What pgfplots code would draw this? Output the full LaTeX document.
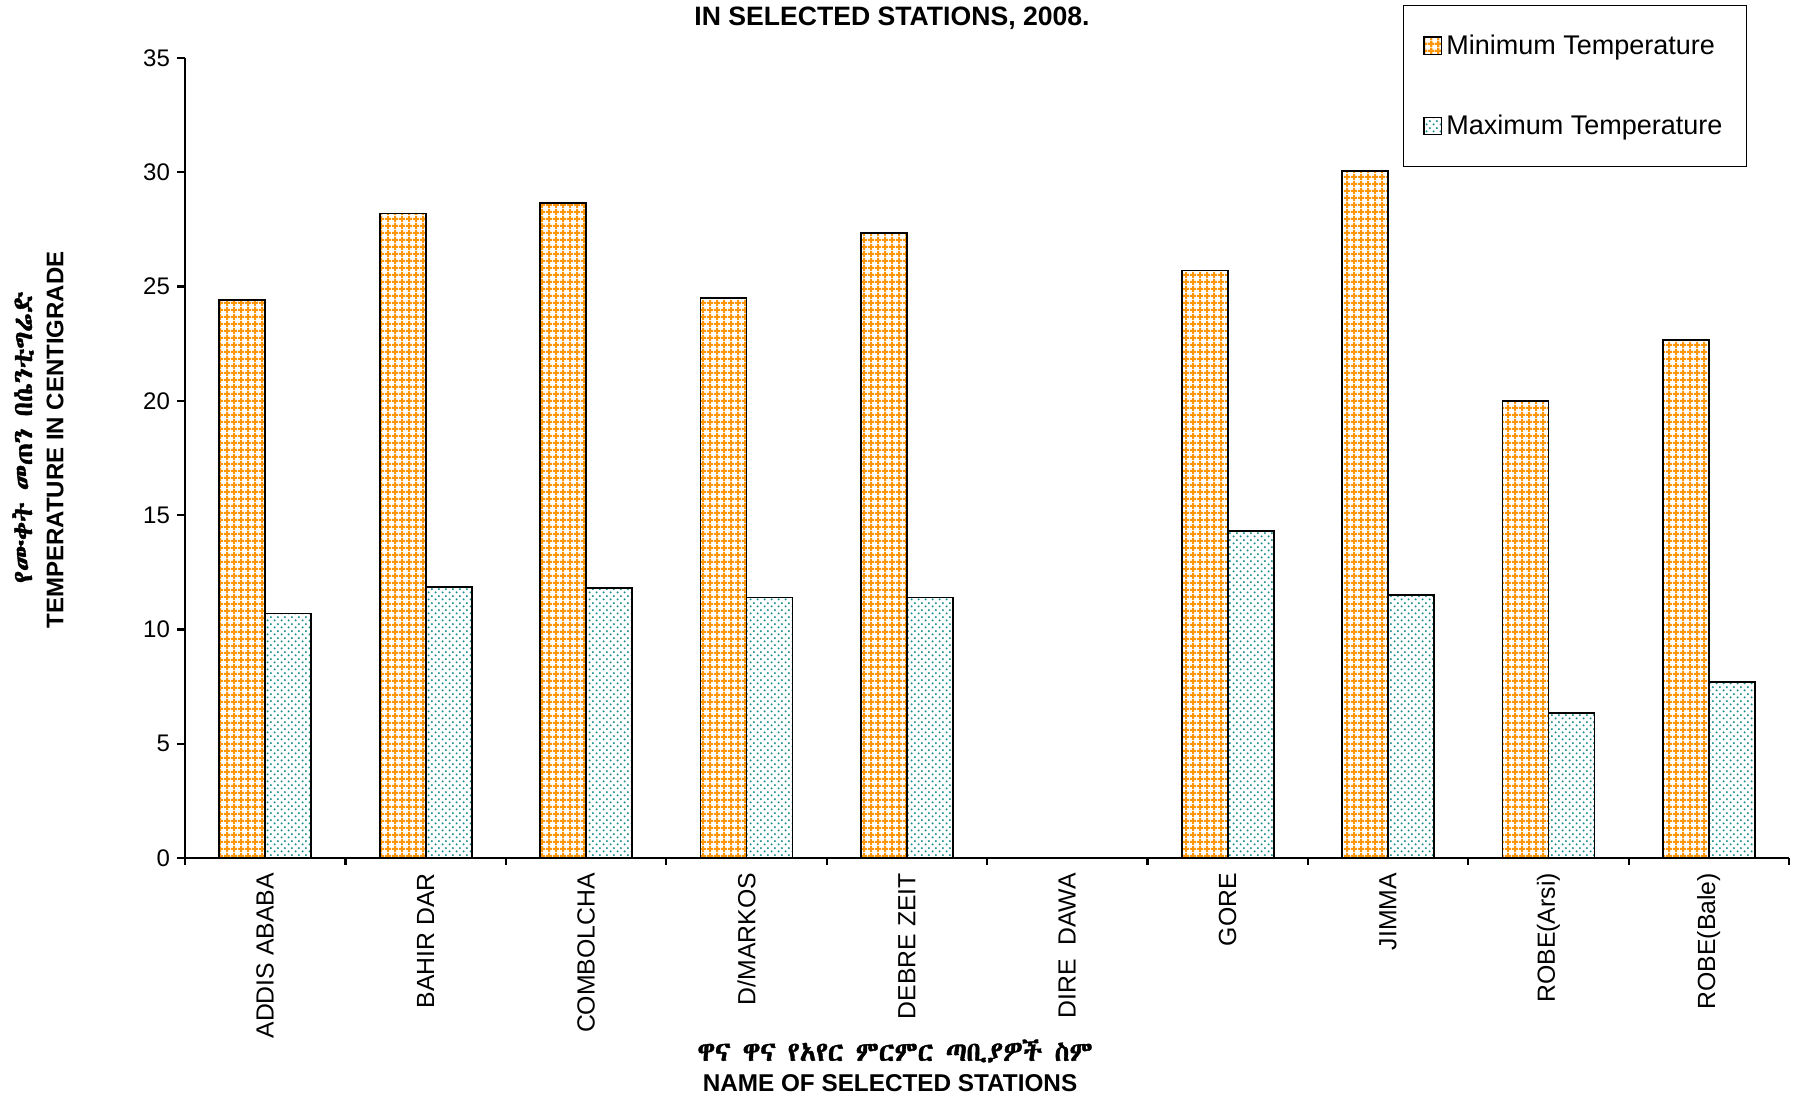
\documentclass[border=0pt]{standalone}
\usepackage{fontspec}
\setmainfont{Liberation Sans}
\IfFontExistsTF{Abyssinica SIL}
  {\newfontfamily\ethfont{Abyssinica SIL}[FakeBold=1.5]}
  {\newfontfamily\ethfont{DejaVu Sans}}
\usepackage{pgfplots}
\pgfplotsset{compat=1.18}
\usetikzlibrary{patterns.meta}

\definecolor{gridorange}{RGB}{255,150,10}
\definecolor{dotteal}{RGB}{20,140,140}

% orange lattice for the minimum, staggered dots for the maximum
\tikzdeclarepattern{
  name=ogrid, type=uncolored,
  bottom left={(0pt,0pt)}, top right={(3.5pt,3.5pt)},
  tile size={(3.5pt,3.5pt)},
  code={
    \path[draw, line width=1.2pt] (0pt,1.75pt) -- (3.5pt,1.75pt);
    \path[draw, line width=1.2pt] (1.75pt,0pt) -- (1.75pt,3.5pt);
  }
}
\tikzdeclarepattern{
  name=tdots, type=uncolored,
  bottom left={(0pt,0pt)}, top right={(3.6pt,3.6pt)},
  tile size={(3.6pt,3.6pt)},
  code={
    \fill (0.9pt,0.9pt) circle (0.6pt);
    \fill (2.7pt,2.7pt) circle (0.6pt);
  }
}

\begin{document}
\begin{tikzpicture}
\begin{axis}[
  at={(0,0)}, anchor=south west,
  width=802pt, height=400pt, scale only axis,
  xmin=-0.5, xmax=9.5, ymin=0, ymax=35,
  axis lines*=left,
  axis line style={line width=1.1pt},
  ybar=0pt, bar width=23pt,
  xtick={0,...,9},
  xticklabels={ADDIS ABABA, BAHIR DAR, COMBOLCHA, D/MARKOS, DEBRE ZEIT,
    DIRE\ \ DAWA, GORE, JIMMA, ROBE(Arsi), ROBE(Bale)},
  minor xtick={-0.5,0.5,...,9.5},
  major x tick style={draw=none},
  ytick={0,5,...,35},
  tick align=outside,
  major tick length=4pt, minor tick length=3.5pt,
  every tick/.style={black, line width=1.1pt},
  /pgf/number format/assume math mode=true,
  yticklabel style={font=\fontsize{12}{14}\selectfont},
  xticklabel style={rotate=90, anchor=east, font=\fontsize{12.4}{14}\selectfont},
  legend style={at={(0.7594,1.0663)}, anchor=north west, draw=black,
    font=\fontsize{13.5}{15}\selectfont, row sep=24.8pt,
    inner xsep=10pt, inner ysep=12.6pt},
  legend cell align=left,
  legend image code/.code={
    \draw[#1, line width=0.8pt] (0pt,-4.3pt) rectangle (8.6pt,4.3pt);},
]
% station order as on the axis; DIRE DAWA has no reading
\addplot[draw=black, line width=0.9pt, pattern=ogrid, pattern color=gridorange]
  coordinates {(0,24.4) (1,28.2) (2,28.65) (3,24.5) (4,27.35)
               (6,25.7) (7,30.05) (8,20.0) (9,22.65)};
\addplot[draw=black, line width=0.9pt, pattern=tdots, pattern color=dotteal]
  coordinates {(0,10.7) (1,11.85) (2,11.8) (3,11.4) (4,11.4)
               (6,14.3) (7,11.5) (8,6.35) (9,7.7)};
\legend{Minimum Temperature, Maximum Temperature}
\end{axis}

% title and axis names
\node[font=\bfseries\fontsize{13.3}{15}\selectfont] at (353.5pt,420pt)
  {IN SELECTED STATIONS, 2008.};
\node[rotate=90, font=\bfseries\fontsize{12}{14}\selectfont] at (-65pt,209pt)
  {TEMPERATURE IN CENTIGRADE};
\node[rotate=90, font=\ethfont\fontsize{13.5}{15}\selectfont] at (-81pt,210.5pt)
  {የሙቀት መጠን በሴንቲግሬድ};
\node[font=\ethfont\fontsize{13.5}{15}\selectfont] at (355pt,-96.5pt)
  {ዋና ዋና የአየር ምርምር ጣቢያዎች ስም};
\node[font=\bfseries\fontsize{12.15}{14}\selectfont] at (352.5pt,-112.5pt)
  {NAME OF SELECTED STATIONS};

\pgfresetboundingbox
\path[use as bounding box] (-92.5pt,-119.5pt) rectangle (805pt,429pt);
\end{tikzpicture}
\end{document}
